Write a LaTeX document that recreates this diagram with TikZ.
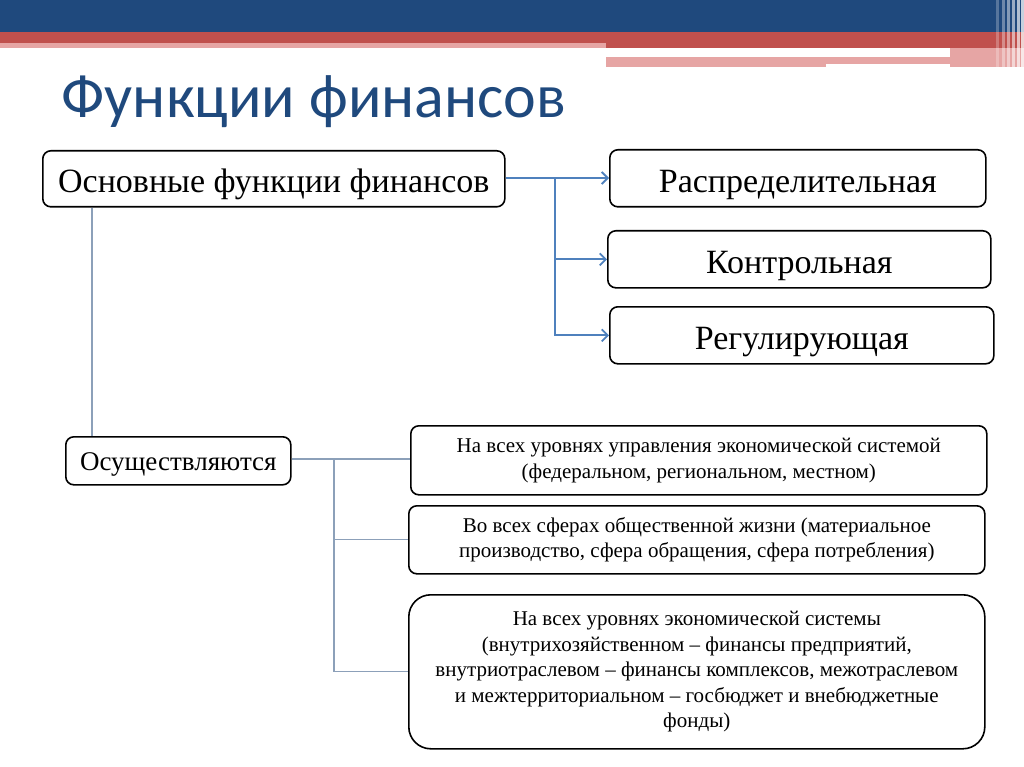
\documentclass[tikz,border=0pt]{standalone}
\usepackage{fontspec}
\setmainfont{Liberation Serif}
\newfontfamily\titlefont{Carlito}
\usetikzlibrary{positioning,arrows.meta}
\definecolor{darkblue}{RGB}{31,73,125}
\definecolor{barred}{RGB}{192,80,77}
\definecolor{barpink}{RGB}{230,165,164}
\definecolor{arrowblue}{RGB}{79,129,189}
\definecolor{linegrey}{RGB}{140,160,185}
\tikzset{
  box/.style={draw, rounded corners=8pt, line width=1.6pt, anchor=north west, inner sep=0pt, align=center},
  bigtext/.style={font=\fontsize{34}{36}\selectfont, text height=31pt, text depth=3pt},
  smalltext/.style={font=\fontsize{21}{25.5}\selectfont},
  bluearrow/.style={draw=arrowblue, line width=1.8pt, -{Straight Barb[length=6pt,width=12pt]}},
  blueline/.style={draw=arrowblue, line width=1.8pt},
  greyline/.style={draw=linegrey, line width=1.2pt}
}
\begin{document}
\begin{tikzpicture}[x=1pt,y=-1pt]
  \useasboundingbox (0,0) rectangle (1024,767);
  % header bars
  \fill[darkblue] (0,0) rectangle (1024,32);
  \fill[barred] (0,32) rectangle (1024,43);
  \fill[barpink] (0,43) rectangle (606,48);
  \fill[barred] (606,43) rectangle (1024,48);
  \fill[barpink] (950,48) rectangle (1024,67);
  \fill[barpink] (606,57) rectangle (826,67);
  \fill[barpink] (826,57) rectangle (950,64);
  \foreach \xs/\op in {996/0.25,1002/0.35,1007/0.45,1012/0.55,1017/0.65,1021/0.75}
    \fill[white, opacity=\op] (\xs,0) rectangle ++(2.5,67);

  \node[anchor=west, text=darkblue, font=\titlefont\fontsize{62}{66}\selectfont] (title) at (58,102) {Функции финансов};

  % upper part
  \node[box, bigtext, minimum width=462pt, minimum height=56pt] (osn) at (42,150) {Основные функции финансов};
  \node[box, bigtext, minimum width=376pt, minimum height=57pt] (rasp) at (609,149) {Распределительная};
  \node[box, bigtext, minimum width=383pt, minimum height=57pt] (kontr) at (607,230) {Контрольная};
  \node[box, bigtext, minimum width=384pt, minimum height=57pt] (reg) at (609,306) {Регулирующая};

  \coordinate (fork) at (555,178);
  \draw[blueline] (osn.east |- fork) -- (fork);
  \draw[bluearrow] (fork) -- (rasp.west |- fork);
  \draw[bluearrow] (fork) |- (kontr.west);
  \draw[bluearrow] (fork) |- (reg.west);

  % lower part
  \node[box, font=\fontsize{27}{30}\selectfont, text height=24pt, text depth=4pt, minimum width=225pt, minimum height=48pt] (osush) at (65,436) {Осуществляются};
  \node[box, smalltext, minimum width=576pt, minimum height=69pt] (urov) at (410,425)
    {На всех уровнях управления экономической системой\\(федеральном, региональном, местном)};
  \node[box, smalltext, minimum width=576pt, minimum height=68pt] (sfer) at (408,505)
    {Во всех сферах общественной жизни (материальное\\производство, сфера обращения, сфера потребления)};
  \node[box, smalltext, rounded corners=22pt, minimum width=576pt, minimum height=154pt] (sist) at (408,594)
    {На всех уровнях экономической системы\\(внутрихозяйственном -- финансы предприятий,\\внутриотраслевом -- финансы комплексов, межотраслевом\\и межтерриториальном -- госбюджет и внебюджетные\\фонды)};

  \draw[greyline] ([xshift=27pt]osush.north west) -- ([xshift=27pt]osush.north west |- osn.south);
  \coordinate (fork2) at (334,459);
  \draw[greyline] (osush.east |- fork2) -- (urov.west |- fork2);
  \draw[greyline] (fork2) |- (sfer.west);
  \draw[greyline] (fork2) |- (sist.west);
\end{tikzpicture}
\end{document}
